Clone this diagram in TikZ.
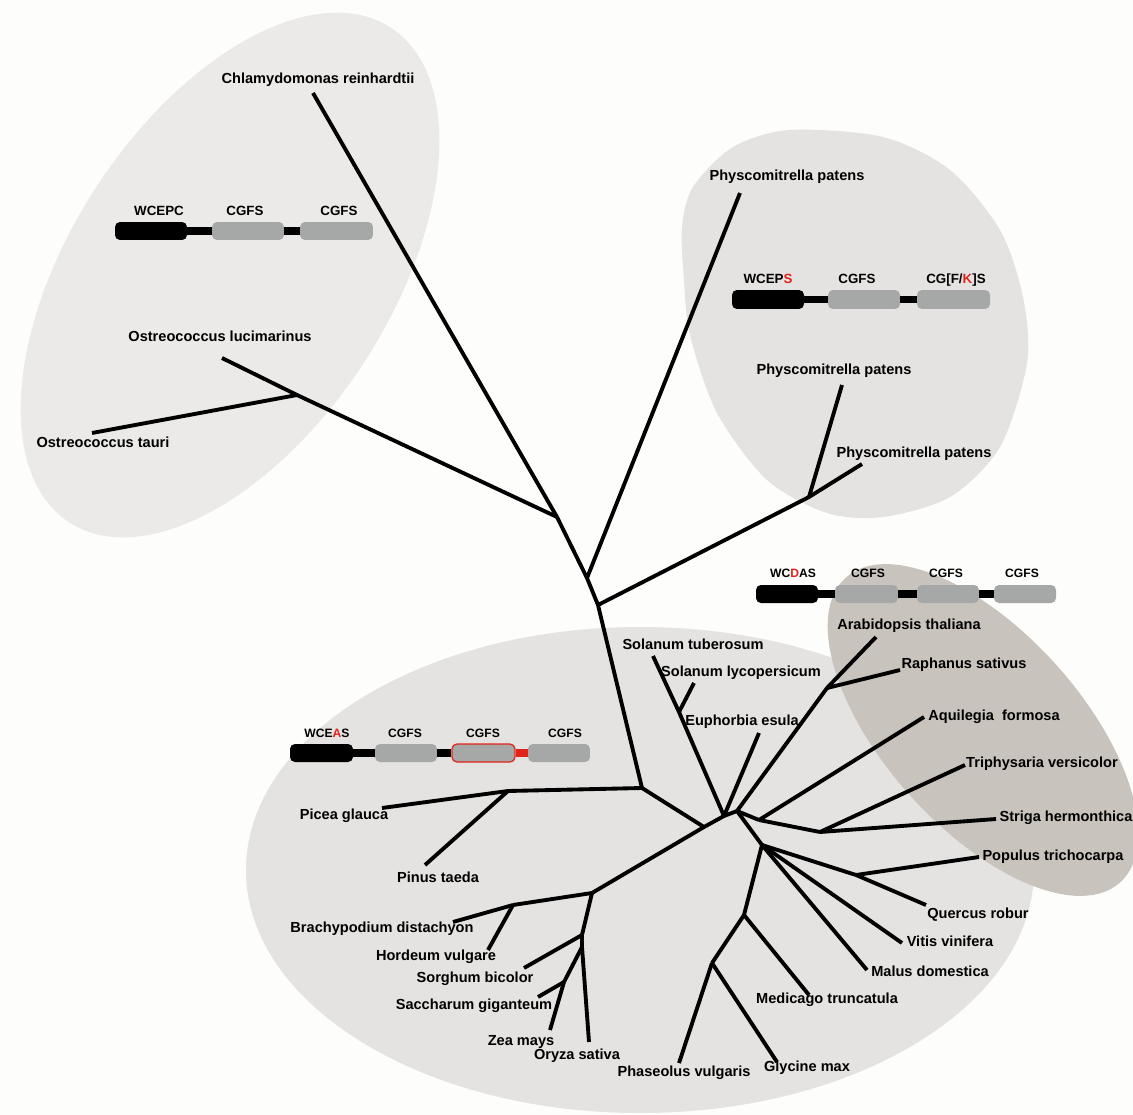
\documentclass[tikz,border=0pt]{standalone}
\usepackage{fontspec}
\setmainfont{Liberation Sans}
\definecolor{paper}{HTML}{FDFDFB}
\definecolor{paletop}{HTML}{EBEAE8}
\definecolor{pale}{HTML}{E5E3E1}
\definecolor{taupe}{HTML}{C9C3BE}
\definecolor{domgray}{HTML}{A6A8A7}
\definecolor{domred}{HTML}{E2231A}

\begin{document}
\begin{tikzpicture}[x=0.02cm, y=-0.02cm,
  branch/.style={line width=2.2pt, line join=round},
  sp/.style={font=\fontsize{8.3}{10}\selectfont\bfseries, inner sep=0pt, text height=6pt, text depth=1.7pt},
  dom/.style={font=\fontsize{7.6}{9}\selectfont\bfseries, inner sep=0pt, text height=5.5pt, text depth=0pt},
  domsm/.style={dom, font=\fontsize{6.9}{8}\selectfont\bfseries},
  wbox/.style={fill=black, rounded corners=2.8pt, minimum height=0.36cm, inner sep=0pt},
  gbox/.style={fill=domgray, rounded corners=2.8pt, minimum height=0.36cm, inner sep=0pt},
  rbox/.style={gbox, draw=domred, line width=0.7pt},
  link/.style={line width=4pt},
  rlink/.style={link, domred}]
\useasboundingbox (0,0) rectangle (1133,1115);
\fill[paper] (0,0) rectangle (1133,1115);

%Groupes
\fill[paletop, rotate around={57:(230,275)}] (230,275) ellipse [x radius=295, y radius=160];
\fill[pale] plot[smooth cycle] coordinates {(790,130) (733,147) (693,187) (682,227) (684,280) (690,335) (717,413) (767,480) (827,513) (883,517) (950,497) (1000,447) (1027,363) (1023,297) (1000,230) (950,170) (883,137)};
\fill[pale] (640,870) ellipse [x radius=394, y radius=243];
\fill[taupe, rotate around={-48:(983,730)}] (983,730) ellipse [x radius=205, y radius=98];

%Noeuds
\coordinate (A) at (557,517);
\coordinate (ostj) at (297,395);
\coordinate (B) at (587,578);
\coordinate (R) at (598,605);
\coordinate (Q) at (642,788);
\coordinate (ppj) at (809,497);
\coordinate (P) at (508,791);
\coordinate (C) at (704,827);
\coordinate (D) at (724,816);
\coordinate (E) at (737,811);
\coordinate (J) at (592,893);
\coordinate (K) at (513,905);
\coordinate (L1) at (582,935);
\coordinate (L2) at (582,947);
\coordinate (M) at (564,982);
\coordinate (S) at (679,712);
\coordinate (ar) at (827,688);
\coordinate (G) at (759,820);
\coordinate (I) at (820,832);
\coordinate (H) at (762,845);
\coordinate (pq) at (856,875);
\coordinate (N) at (744,915);
\coordinate (O) at (712,963);

%Feuilles
\coordinate (tChl) at (313,93);
\coordinate (tOlu) at (222,358);
\coordinate (tOta) at (92,433);
\coordinate (tPp1) at (740,193);
\coordinate (tPp2) at (842,385);
\coordinate (tPp3) at (862,464);
\coordinate (tPic) at (382,808);
\coordinate (tPin) at (425,865);
\coordinate (tBra) at (453,922);
\coordinate (tHor) at (488,950);
\coordinate (tSor) at (524,968);
\coordinate (tSac) at (538,997);
\coordinate (tZea) at (550,1030);
\coordinate (tOry) at (589,1042);
\coordinate (tStu) at (653,656);
\coordinate (tSly) at (694,683);
\coordinate (tEup) at (759,733);
\coordinate (tAra) at (876,637);
\coordinate (tRap) at (900,670);
\coordinate (tAqu) at (924,717);
\coordinate (tTri) at (965,765);
\coordinate (tStr) at (996,819);
\coordinate (tPop) at (979,857);
\coordinate (tQue) at (926,905);
\coordinate (tVit) at (902,943);
\coordinate (tMal) at (867,970);
\coordinate (tMed) at (809,995);
\coordinate (tPha) at (679,1063);
\coordinate (tGly) at (777,1062);

%Branches
\draw[branch] (tChl) -- (A);
\draw[branch] (tOlu) -- (ostj) -- (A);
\draw[branch] (tOta) -- (ostj);
\draw[branch] (A) -- (B) -- (R) -- (Q);
\draw[branch] (tPp1) -- (B);
\draw[branch] (R) -- (ppj);
\draw[branch] (ppj) -- (tPp2);
\draw[branch] (ppj) -- (tPp3);
\draw[branch] (Q) -- (P);
\draw[branch] (P) -- (tPic);
\draw[branch] (P) -- (tPin);
\draw[branch] (Q) -- (C);
\draw[branch] (J) -- (C) -- (D) -- (E);
\draw[branch] (J) -- (K);
\draw[branch] (K) -- (tBra);
\draw[branch] (K) -- (tHor);
\draw[branch] (J) -- (L1) -- (L2) -- (tOry);
\draw[branch] (L1) -- (tSor);
\draw[branch] (L2) -- (M);
\draw[branch] (M) -- (tSac);
\draw[branch] (M) -- (tZea);
\draw[branch] (D) -- (S);
\draw[branch] (S) -- (tStu);
\draw[branch] (S) -- (tSly);
\draw[branch] (D) -- (tEup);
\draw[branch] (E) -- (ar);
\draw[branch] (ar) -- (tAra);
\draw[branch] (ar) -- (tRap);
\draw[branch] (E) -- (G);
\draw[branch] (G) -- (tAqu);
\draw[branch] (G) -- (I);
\draw[branch] (I) -- (tTri);
\draw[branch] (I) -- (tStr);
\draw[branch] (E) -- (H);
\draw[branch] (H) -- (pq);
\draw[branch] (pq) -- (tPop);
\draw[branch] (pq) -- (tQue);
\draw[branch] (H) -- (tVit);
\draw[branch] (H) -- (tMal);
\draw[branch] (H) -- (N);
\draw[branch] (N) -- (tMed);
\draw[branch] (N) -- (O);
\draw[branch] (O) -- (tPha);
\draw[branch] (O) -- (tGly);

%Domaines WCEPC
\node[wbox, minimum width=1.44cm] (c1) at (151,231) {};
\node[gbox, minimum width=1.44cm] (c2) at (248,231) {};
\node[gbox, minimum width=1.46cm] (c3) at (336.5,231) {};
\draw[link] (c1) -- (c2);
\draw[link] (c2) -- (c3);
\node[dom] (c1t) at (159,211) {WCEPC};
\node[dom] (c2t) at (245,211) {CGFS};
\node[dom] (c3t) at (339,211) {CGFS};

%Domaines WCEPS
\node[wbox, minimum width=1.44cm, minimum height=0.38cm] (m1) at (768,299.5) {};
\node[gbox, minimum width=1.44cm, minimum height=0.38cm] (m2) at (864,299.5) {};
\node[gbox, minimum width=1.46cm, minimum height=0.38cm] (m3) at (953.5,299.5) {};
\draw[link] (m1) -- (m2);
\draw[link] (m2) -- (m3);
\node[dom] (m1t) at (768,279) {WCEP\textcolor{domred}{S}};
\node[dom] (m2t) at (857,279) {CGFS};
\node[dom] (m3t) at (956,279) {CG[F/\textcolor{domred}{K}]S};

%Domaines WCDAS
\node[wbox, minimum width=1.24cm] (d1) at (787,594) {};
\node[gbox, minimum width=1.26cm] (d2) at (866.5,594) {};
\node[gbox, minimum width=1.24cm] (d3) at (948,594) {};
\node[gbox, minimum width=1.24cm] (d4) at (1025,594) {};
\draw[link] (d1) -- (d2);
\draw[link] (d2) -- (d3);
\draw[link] (d3) -- (d4);
\node[domsm] (d1t) at (793,573) {WC\textcolor{domred}{D}AS};
\node[domsm] (d2t) at (868,573) {CGFS};
\node[domsm] (d3t) at (946,573) {CGFS};
\node[domsm] (d4t) at (1022,573) {CGFS};

%Domaines WCEAS
\node[wbox, minimum width=1.26cm] (e1) at (321.5,753) {};
\node[gbox, minimum width=1.24cm] (e2) at (406,753) {};
\node[rbox, minimum width=1.26cm] (e3) at (483.5,753) {};
\node[gbox, minimum width=1.24cm] (e4) at (559,753) {};
\draw[link] (e1) -- (e2);
\draw[link] (e2) -- (e3);
\draw[rlink] (e3) -- (e4);
\node[domsm] (e1t) at (327,733) {WCE\textcolor{domred}{A}S};
\node[domsm] (e2t) at (405,733) {CGFS};
\node[domsm] (e3t) at (483,733) {CGFS};
\node[domsm] (e4t) at (565,733) {CGFS};

%Especes
\node[sp] (lChl) at (318,80) {Chlamydomonas reinhardtii};
\node[sp] (lOlu) at (220,338) {Ostreococcus lucimarinus};
\node[sp] (lOta) at (103,444) {Ostreococcus tauri};
\node[sp] (lPp1) at (787,177) {Physcomitrella patens};
\node[sp] (lPp2) at (834,371) {Physcomitrella patens};
\node[sp] (lPp3) at (914,454) {Physcomitrella patens};
\node[sp] (lPic) at (344,816) {Picea glauca};
\node[sp] (lPin) at (438,879) {Pinus taeda};
\node[sp] (lBra) at (382,929) {Brachypodium distachyon};
\node[sp] (lHor) at (436,957) {Hordeum vulgare};
\node[sp] (lSor) at (475,979) {Sorghum bicolor};
\node[sp] (lSac) at (474,1006) {Saccharum giganteum};
\node[sp] (lZea) at (521,1042) {Zea mays};
\node[sp] (lOry) at (577,1056) {Oryza sativa};
\node[sp] (lStu) at (693,646) {Solanum tuberosum};
\node[sp] (lSly) at (741,673) {Solanum lycopersicum};
\node[sp] (lEup) at (742,722) {Euphorbia esula};
\node[sp] (lAra) at (909,626) {Arabidopsis thaliana};
\node[sp] (lRap) at (964,665) {Raphanus sativus};
\node[sp] (lAqu) at (994,717) {Aquilegia\ \ formosa};
\node[sp] (lTri) at (1042,764) {Triphysaria versicolor};
\node[sp] (lStr) at (1066,818) {Striga hermonthica};
\node[sp] (lPop) at (1053,857) {Populus trichocarpa};
\node[sp] (lQue) at (978,915) {Quercus robur};
\node[sp] (lVit) at (950,943) {Vitis vinifera};
\node[sp] (lMal) at (930,973) {Malus domestica};
\node[sp] (lMed) at (827,1000) {Medicago truncatula};
\node[sp] (lGly) at (807,1068) {Glycine max};
\node[sp] (lPha) at (684,1073) {Phaseolus vulgaris};

\end{tikzpicture}
\end{document}
